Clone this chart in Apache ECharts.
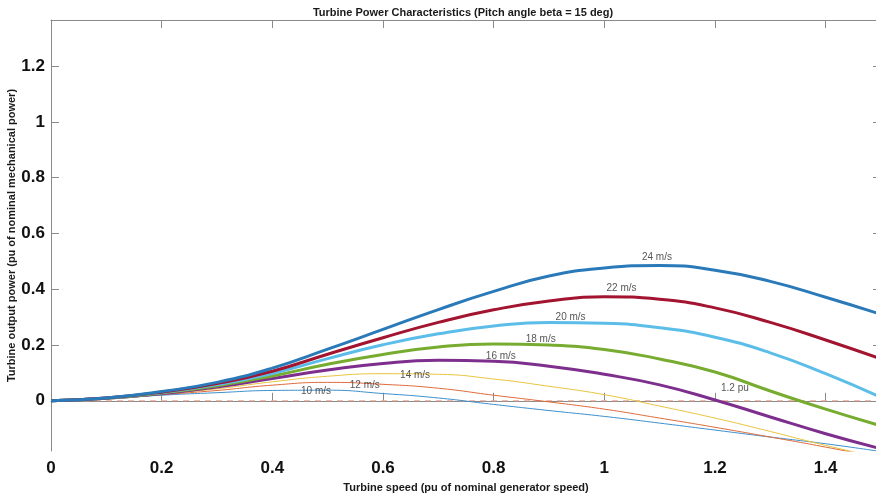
<!DOCTYPE html>
<html>
<head>
<meta charset="utf-8">
<script src="https://cdn.jsdelivr.net/npm/echarts@6/dist/echarts.min.js"></script>
<style>html,body{margin:0;padding:0;background:#fff;}#chart{width:876px;height:499px;}</style>
</head>
<body>
<div id="chart"></div>
<script>
// Turbine speed (pu of nominal generator speed)
var speed = [0, 0.1, 0.2, 0.3, 0.4, 0.5, 0.6, 0.7, 0.8, 0.9, 1.0, 1.1, 1.2, 1.3, 1.4, 1.5];
// Turbine output power (pu) per wind speed
var p24 = [0, 0.010, 0.033, 0.066, 0.117, 0.185, 0.256, 0.327, 0.392, 0.447, 0.476, 0.485, 0.468, 0.428, 0.371, 0.310];
var p22 = [0, 0.010, 0.031, 0.062, 0.106, 0.167, 0.226, 0.281, 0.326, 0.358, 0.373, 0.364, 0.333, 0.281, 0.218, 0.150];
var p20 = [0, 0.010, 0.030, 0.058, 0.098, 0.151, 0.201, 0.240, 0.268, 0.281, 0.278, 0.262, 0.228, 0.172, 0.097, 0.012];
var p18 = [0, 0.009, 0.028, 0.054, 0.089, 0.131, 0.166, 0.193, 0.204, 0.200, 0.184, 0.150, 0.103, 0.035, -0.030, -0.090];
var p16 = [0, 0.009, 0.026, 0.049, 0.080, 0.110, 0.134, 0.145, 0.142, 0.124, 0.095, 0.057, 0.003, -0.058, -0.118, -0.172];
var p14 = [0, 0.008, 0.024, 0.043, 0.068, 0.088, 0.097, 0.095, 0.078, 0.052, 0.022, -0.019, -0.062, -0.110, -0.160, -0.205];
var p12 = [0, 0.008, 0.022, 0.037, 0.056, 0.066, 0.059, 0.045, 0.020, -0.004, -0.030, -0.062, -0.095, -0.130, -0.166, -0.205];
var p10 = [0, 0.007, 0.020, 0.029, 0.037, 0.038, 0.026, 0.010, -0.013, -0.035, -0.056, -0.080, -0.105, -0.130, -0.154, -0.182];
var windSpeeds = ['24 m/s', '22 m/s', '20 m/s', '18 m/s', '16 m/s', '14 m/s', '12 m/s', '10 m/s'];
var zeroLineX = [0, 1.5];
var zeroLineY = [0, 0];
var xTicks = [0, 0.2, 0.4, 0.6, 0.8, 1, 1.2, 1.4];
var yTicks = [0, 0.2, 0.4, 0.6, 0.8, 1, 1.2];
// curve labels: [speed, power, text]
var curveLabels = [
  [1.095, 0.515, '24 m/s'], [1.031, 0.404, '22 m/s'], [0.939, 0.300, '20 m/s'],
  [0.885, 0.221, '18 m/s'], [0.813, 0.160, '16 m/s'], [0.658, 0.092, '14 m/s'],
  [0.567, 0.056, '12 m/s'], [0.479, 0.034, '10 m/s'], [1.236, 0.045, '1.2 pu']
];

var seriesData = [p24, p22, p20, p18, p16, p14, p12, p10];
var colors = ['#2a7ab9', '#a2142f', '#5cbde9', '#77ac30', '#7e2f8e', '#e8c43c', '#de6a3a', '#3d8fcc'];
var widths = [3, 3, 3, 3, 3, 1, 1, 1];
var FONT = 'Liberation Sans, Arial, sans-serif';
var AX = '#8a8a8a';

function pairs(xs, ys) { return xs.map(function (x, i) { return [x, ys[i]]; }); }

var series = [{
  type: 'line', xAxisIndex: 0, yAxisIndex: 0, data: pairs(zeroLineX, zeroLineY),
  showSymbol: false, silent: true, z: 1,
  lineStyle: { color: '#e9a28e', width: 1, type: [6, 5] }
}];
seriesData.slice().reverse().forEach(function (d, ri) {
  var i = seriesData.length - 1 - ri;
  series.push({
    type: 'line', name: windSpeeds[i], xAxisIndex: 0, yAxisIndex: 0,
    data: pairs(speed, d), smooth: 0.5, showSymbol: false, silent: true, clip: true,
    lineStyle: { color: colors[i], width: widths[i] }, z: 2 + (8 - i)
  });
});
series.push({
  type: 'scatter', xAxisIndex: 0, yAxisIndex: 0, symbolSize: 0, silent: true, z: 20,
  data: curveLabels.map(function (l) { return [l[0], l[1], l[2]]; }),
  label: { show: true, position: 'inside', formatter: function (p) { return p.value[2]; },
           fontFamily: FONT, fontSize: 10, color: '#2b2b2b' }
});

var chart = echarts.init(document.getElementById('chart'), null, { renderer: 'canvas' });
chart.setOption({
  animation: false,
  backgroundColor: '#ffffff',
  title: {
    text: 'Turbine Power Characteristics (Pitch angle beta = 15 deg)',
    left: 458, top: 2, textAlign: 'center',
    textStyle: { fontFamily: FONT, fontSize: 11, fontWeight: 'bold', color: '#1a1a1a' }
  },
  grid: { left: 51, top: 20, right: -5, bottom: 48, containLabel: false, outerBoundsMode: 'none' },
  xAxis: [{
    type: 'value', min: 0, max: 1.5, position: 'bottom',
    name: 'Turbine speed (pu of nominal generator speed)', nameLocation: 'middle', nameGap: 31,
    nameMoveOverlap: false,
    nameTextStyle: { fontFamily: FONT, fontSize: 11, fontWeight: 'bold', color: '#1a1a1a' },
    axisLine: { show: true, lineStyle: { color: AX, width: 1 } },
    axisTick: { show: true, inside: true, length: 8, customValues: xTicks, lineStyle: { color: AX } },
    axisLabel: { customValues: xTicks, margin: 9, fontFamily: FONT, fontSize: 17, fontWeight: 'bold', color: '#111',
                 formatter: function (v) { return String(+v.toFixed(1)); } },
    splitLine: { show: false }
  }, {
    type: 'value', min: 0, max: 1.5, position: 'top',
    axisLine: { show: true, onZero: false, lineStyle: { color: AX, width: 1 } },
    axisTick: { show: true, inside: true, length: 8, customValues: xTicks, lineStyle: { color: AX } },
    axisLabel: { show: false }, splitLine: { show: false }
  }],
  yAxis: [{
    type: 'value', min: -0.18, max: 1.365, position: 'left',
    name: 'Turbine output power (pu of nominal mechanical power)', nameLocation: 'middle', nameGap: 34,
    nameMoveOverlap: false,
    nameTextStyle: { fontFamily: FONT, fontSize: 11, fontWeight: 'bold', color: '#1a1a1a' },
    axisLine: { show: true, onZero: false, lineStyle: { color: AX, width: 1 } },
    axisTick: { show: true, inside: true, length: 8, customValues: yTicks, lineStyle: { color: AX } },
    axisLabel: { customValues: yTicks, margin: 6, fontFamily: FONT, fontSize: 17, fontWeight: 'bold', color: '#111',
                 formatter: function (v) { return String(+v.toFixed(1)); } },
    splitLine: { show: false }
  }, {
    type: 'value', min: -0.18, max: 1.365, position: 'right',
    axisLine: { show: true, onZero: false, lineStyle: { color: AX, width: 1 } },
    axisTick: { show: true, inside: true, length: 8, customValues: yTicks, lineStyle: { color: AX } },
    axisLabel: { show: false }, splitLine: { show: false }
  }],
  series: series
});
</script>
</body>
</html>
